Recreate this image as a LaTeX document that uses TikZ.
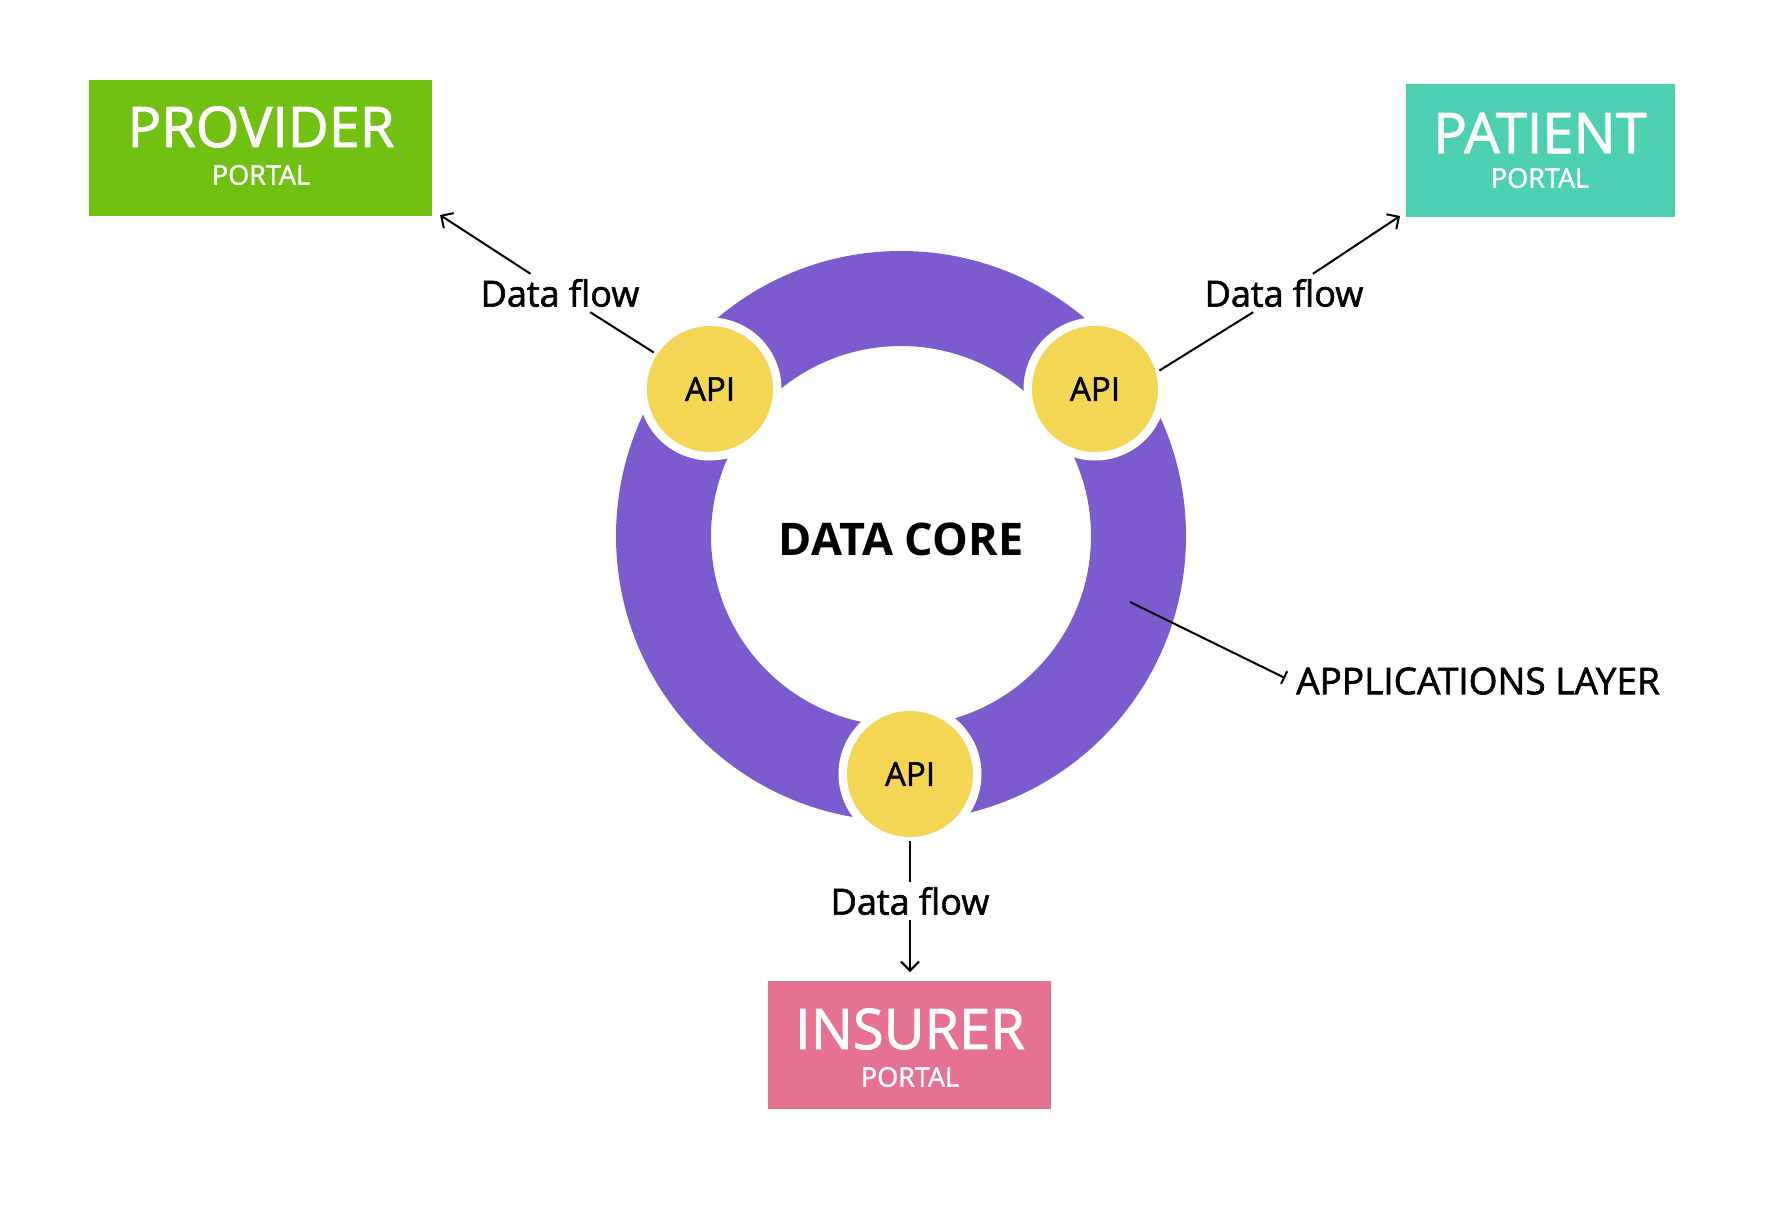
\documentclass[tikz,border=0pt]{standalone}
\usepackage{fontspec}
\setmainfont{Open Sans}
\newfontfamily\medfont{Open Sans}[FakeBold=1.6]
\usetikzlibrary{arrows.meta}
\definecolor{ringpurple}{RGB}{123,91,205}
\definecolor{apiyellow}{RGB}{244,213,84}
\definecolor{provgreen}{RGB}{112,193,18}
\definecolor{patteal}{RGB}{77,207,178}
\definecolor{inspink}{RGB}{231,113,144}
\tikzset{
  portalbox/.style={draw=none, minimum width=#1, inner sep=0pt},
  titletext/.style={text=white, font=\medfont\fontsize{56}{60}\selectfont, inner sep=0pt},
  subtext/.style={text=white, font=\medfont\fontsize{27}{30}\selectfont, inner sep=0pt},
  apinode/.style={circle, fill=apiyellow, minimum size=126pt, inner sep=0pt, outer sep=4pt, font=\medfont\fontsize{33}{36}\selectfont},
  gapdisk/.style={circle, fill=white, minimum size=143pt, inner sep=0pt},
  flowlabel/.style={font=\medfont\fontsize{36}{40}\selectfont, inner sep=5pt},
  conn/.style={line width=2pt, black},
  flowarrow/.style={conn, -{Straight Barb[length=9pt,width=18pt,line width=2pt]}},
}
\begin{document}
\begin{tikzpicture}[x=1pt,y=-1pt]
\useasboundingbox (0,0) rectangle (1772,1205);
% portals
\node[portalbox=343pt, minimum height=136pt, fill=provgreen] (provider) at (260.5,148) {};
\node[titletext] (providerT) at (261,127) {PROVIDER};
\node[subtext] (providerS) at (261,175) {PORTAL};
\node[portalbox=269pt, minimum height=133pt, fill=patteal] (patient) at (1540.5,150.5) {};
\node[titletext] (patientT) at (1540,133) {PATIENT};
\node[subtext] (patientS) at (1540,178) {PORTAL};
\node[portalbox=283pt, minimum height=128pt, fill=inspink] (insurer) at (909.5,1045) {};
\node[titletext] (insurerT) at (910,1029) {INSURER};
\node[subtext] (insurerS) at (910,1077) {PORTAL};
% ring
\coordinate (core) at (901,536);
\fill[ringpurple, even odd rule] (core) circle[radius=285] (core) circle[radius=190];
\node[font=\bfseries\fontsize{45}{50}\selectfont] (datacore) at (901,539) {DATA CORE};
% APIs
\node[gapdisk] (gap1) at (710,389) {};
\node[gapdisk] (gap2) at (1095,389) {};
\node[gapdisk] (gap3) at (910,774) {};
\node[apinode] (api1) at (710,389) {API};
\node[apinode] (api2) at (1095,389) {API};
\node[apinode] (api3) at (910,774) {API};
% flow labels
\node[flowlabel] (df1) at (560,293) {Data flow};
\node[flowlabel] (df2) at (1284,293) {Data flow};
\node[flowlabel] (df3) at (910,901) {Data flow};
\coordinate (tip1) at (440,215);
\coordinate (tip2) at (1400,216);
\coordinate (tip3) at (910,972);
\draw[conn] (api1.147) -- (df1);
\draw[flowarrow] (df1) -- (tip1);
\draw[conn] (api2.16) -- (df2);
\draw[flowarrow] (df2) -- (tip2);
\draw[conn] (api3) -- (df3);
\draw[flowarrow] (df3) -- (tip3);
% applications layer
\node[anchor=west, font=\medfont\fontsize{37}{40}\selectfont, inner sep=0pt] (applbl) at (1296,681) {APPLICATIONS LAYER};
\coordinate (appstart) at (1130,602);
\coordinate (append) at (1285,678);
\draw[conn, -{Bar[width=14pt,line width=2pt]}] (appstart) -- (append);
\end{tikzpicture}
\end{document}
